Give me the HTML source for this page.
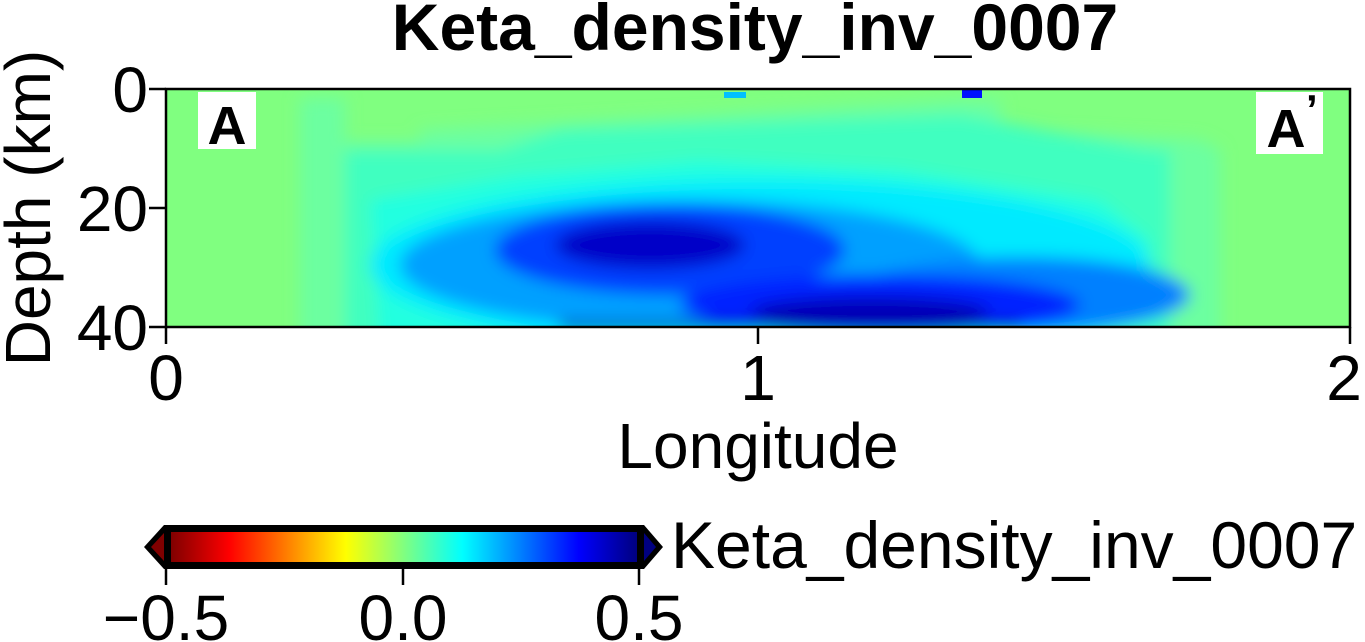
<!DOCTYPE html>
<html><head><meta charset="utf-8"><style>
html,body{margin:0;padding:0;background:#fff;width:1365px;height:642px;overflow:hidden}
svg{position:absolute;left:0;top:0}
text{font-family:"Liberation Sans",sans-serif}
</style></head><body>
<svg width="1365" height="642" viewBox="0 0 1365 642">
<defs>
<linearGradient id="g" x1="0" x2="1" y1="0" y2="0">
<stop offset="0" stop-color="#800000"/><stop offset="0.125" stop-color="#ff0000"/>
<stop offset="0.375" stop-color="#ffff00"/><stop offset="0.5" stop-color="#80ff80"/>
<stop offset="0.625" stop-color="#00ffff"/><stop offset="0.875" stop-color="#0000ff"/>
<stop offset="1" stop-color="#000080"/></linearGradient>
<clipPath id="cp"><rect x="166" y="89" width="1184" height="238"/></clipPath>
<filter id="bl" x="-10%" y="-20%" width="120%" height="140%"><feGaussianBlur stdDeviation="8"/></filter>
</defs>
<rect x="166" y="89" width="1184" height="238" fill="#80ff80"/>
<g clip-path="url(#cp)">
<g filter="url(#bl)">
<polygon points="300,98 345,98 345,142 420,142 420,130 520,125 700,115 960,100 1000,100 1000,130 1200,140 1220,150 1220,345 300,345" fill="#6cffa0"/>
<polygon points="345,150 500,150 560,130 700,125 960,115 1150,150 1170,150 1170,345 345,345" fill="#40ffc0"/>
<polygon points="370,200 520,175 700,160 900,170 1100,200 1150,240 1140,320 1050,345 380,345" fill="#20ffe0"/>
<ellipse cx="760" cy="265" rx="390" ry="85" fill="#00eaff"/>
<ellipse cx="690" cy="265" rx="290" ry="65" fill="#00a0ff"/>
<ellipse cx="1020" cy="295" rx="170" ry="38" fill="#0080ff"/>
<ellipse cx="670" cy="250" rx="175" ry="45" fill="#0040ff"/>
<ellipse cx="880" cy="305" rx="200" ry="30" fill="#0020ff"/>
<ellipse cx="650" cy="245" rx="95" ry="24" fill="#0000c8"/>
<ellipse cx="870" cy="312" rx="120" ry="15" fill="#0000b8"/>
<rect x="560" y="322" width="460" height="8" fill="#0000a0"/>
</g>
<rect x="962" y="90" width="20" height="8" fill="#0010ff"/>
<rect x="724" y="92" width="22" height="6" fill="#00c0ff"/>
</g>
<rect x="166" y="89" width="1184" height="238" fill="none" stroke="#000" stroke-width="2.5"/>
<rect x="198" y="92" width="58" height="57" fill="#fff"/>
<text x="227" y="144" font-size="54" font-weight="bold" text-anchor="middle">A</text>
<rect x="1256" y="92" width="67" height="62" fill="#fff"/>
<text x="1286" y="147" font-size="54" font-weight="bold" text-anchor="middle">A</text>
<text x="1306" y="124" font-size="42" font-weight="bold">’</text>
<g stroke="#000" stroke-width="2.5">
<line x1="166" y1="327" x2="166" y2="344"/><line x1="758" y1="327" x2="758" y2="344"/><line x1="1350" y1="327" x2="1350" y2="344"/>
<line x1="149" y1="89" x2="166" y2="89"/><line x1="149" y1="208" x2="166" y2="208"/><line x1="149" y1="327" x2="166" y2="327"/>
</g>
<text x="755" y="50" font-size="66" font-weight="bold" text-anchor="middle">Keta_density_inv_0007</text>
<g font-size="64" text-anchor="end">
<text x="148" y="112">0</text><text x="148" y="231">20</text><text x="148" y="350">40</text></g>
<g font-size="64" text-anchor="middle">
<text x="166" y="400">0</text><text x="758" y="400">1</text><text x="1344" y="400">2</text>
<text x="758" y="468">Longitude</text></g>
<text transform="translate(50,208) rotate(-90)" font-size="64" text-anchor="middle">Depth (km)</text>
<polygon points="144,547 164,525 644,525 663,547 644,569 164,569" fill="#000"/>
<polygon points="151,547 164,533 164,561" fill="#800000"/>
<polygon points="656,547 644,533 644,561" fill="#000080"/>
<rect x="171" y="532" width="466" height="30" fill="url(#g)"/>
<g stroke="#000" stroke-width="2.5"><line x1="166" y1="569" x2="166" y2="585"/><line x1="403" y1="569" x2="403" y2="585"/><line x1="639" y1="569" x2="639" y2="585"/></g>
<g font-size="64" text-anchor="middle"><text x="166" y="640">−0.5</text><text x="403" y="640">0.0</text><text x="639" y="640">0.5</text></g>
<text x="671" y="568" font-size="66">Keta_density_inv_0007</text>
</svg>
</body></html>
